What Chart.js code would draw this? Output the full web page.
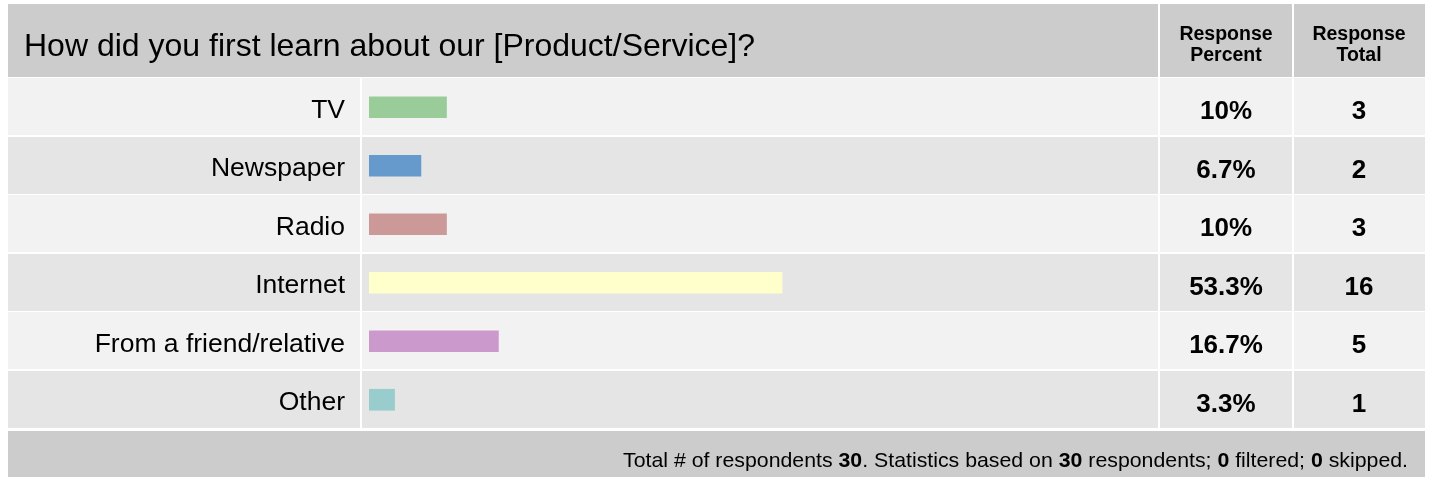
<!DOCTYPE html>
<html>
<head>
<meta charset="utf-8">
<script src="https://cdn.jsdelivr.net/npm/chart.js@4/dist/chart.umd.min.js"></script>
<style>
  html, body { margin: 0; padding: 0; background: #ffffff; }
  canvas { display: block; }
</style>
</head>
<body>
<canvas id="c" width="1429" height="477"></canvas>
<script>
// ---- data ----
const question = 'How did you first learn about our [Product/Service]?';
const categories = ['TV', 'Newspaper', 'Radio', 'Internet', 'From a friend/relative', 'Other'];
const responsePercent = [10, 6.7, 10, 53.3, 16.7, 3.3];
const responseTotal = [3, 2, 3, 16, 5, 1];
const barColors = ['#99cc99', '#6699cc', '#cc9999', '#ffffcc', '#cc99cc', '#99cccc'];
const columnHeaders = [['Response', 'Percent'], ['Response', 'Total']];
const totalRespondents = 30;
const statRespondents = 30;
const filteredCount = 0;
const skippedCount = 0;

const FONT = '"Liberation Sans", Arial, Helvetica, sans-serif';

const tablePlugin = {
  id: 'tablePlugin',
  beforeDraw(chart) {
    const ctx = chart.ctx;
    const y = chart.scales.y;
    ctx.save();
    ctx.fillStyle = '#ffffff';
    ctx.fillRect(0, 0, chart.width, chart.height);
    // header
    ctx.fillStyle = '#cccccc';
    ctx.fillRect(8, 4, 1150, 73);
    ctx.fillRect(1160, 4, 132, 73);
    ctx.fillRect(1294, 4, 131, 73);
    // rows
    const band = (y.bottom - y.top) / categories.length;
    categories.forEach((c, i) => {
      const cy = y.getPixelForValue(i);
      const top = Math.round(cy - band / 2);
      const h = Math.round(band) - 2;
      ctx.fillStyle = i % 2 === 0 ? '#f2f2f2' : '#e5e5e5';
      ctx.fillRect(8, top, 352, h);
      ctx.fillRect(362, top, 796, h);
      ctx.fillRect(1160, top, 132, h);
      ctx.fillRect(1294, top, 131, h);
    });
    // footer
    ctx.fillStyle = '#cccccc';
    ctx.fillRect(8, 431, 1417, 46);
    ctx.restore();
  },
  afterDraw(chart) {
    const ctx = chart.ctx;
    const y = chart.scales.y;
    ctx.save();
    ctx.fillStyle = '#000000';
    // title
    ctx.font = '32px ' + FONT;
    ctx.textAlign = 'left';
    ctx.textBaseline = 'alphabetic';
    ctx.fillText(question, 24, 56);
    // column headers
    ctx.font = 'bold 19.5px ' + FONT;
    ctx.textAlign = 'center';
    const colX = [1226, 1359];
    columnHeaders.forEach((lines, k) => {
      ctx.fillText(lines[0], colX[k], 40);
      ctx.fillText(lines[1], colX[k], 61);
    });
    // values
    ctx.font = 'bold 26px ' + FONT;
    categories.forEach((c, i) => {
      const cy = y.getPixelForValue(i);
      ctx.fillText(responsePercent[i] + '%', colX[0], cy + 12);
      ctx.fillText(String(responseTotal[i]), colX[1], cy + 12);
    });
    // footer
    const segs = [
      ['Total # of respondents ', false], [String(totalRespondents), true],
      ['. Statistics based on ', false], [String(statRespondents), true],
      [' respondents; ', false], [String(filteredCount), true],
      [' filtered; ', false], [String(skippedCount), true], [' skipped.', false]
    ];
    const fs = 21;
    let total = 0;
    segs.forEach(s => { ctx.font = (s[1] ? 'bold ' : '') + fs + 'px ' + FONT; total += ctx.measureText(s[0]).width; });
    const targetW = 785;
    const sx = targetW / total;
    ctx.translate(1408 - targetW, 467);
    ctx.scale(sx, 1);
    ctx.textAlign = 'left';
    let x = 0;
    segs.forEach(s => {
      ctx.font = (s[1] ? 'bold ' : '') + fs + 'px ' + FONT;
      ctx.fillText(s[0], x, 0);
      x += ctx.measureText(s[0]).width;
    });
    ctx.restore();
  }
};

new Chart(document.getElementById('c'), {
  type: 'bar',
  data: {
    labels: categories,
    datasets: [{
      data: responsePercent,
      backgroundColor: barColors,
      borderWidth: 0,
      barThickness: 21
    }]
  },
  options: {
    indexAxis: 'y',
    responsive: false,
    devicePixelRatio: 1,
    animation: false,
    layout: { padding: { top: 78, bottom: 48, left: 8, right: 285 } },
    plugins: { legend: { display: false }, tooltip: { enabled: false } },
    scales: {
      x: { display: false, min: 0, max: 100 },
      y: {
        offset: true,
        grid: { display: false, drawTicks: false },
        border: { display: false },
        afterFit(scale) { scale.width = 361; },
        ticks: {
          color: '#000000',
          padding: 24,
          labelOffset: 3,
          font: { family: FONT, size: 26.5 }
        }
      }
    }
  },
  plugins: [tablePlugin]
});
</script>
</body>
</html>
